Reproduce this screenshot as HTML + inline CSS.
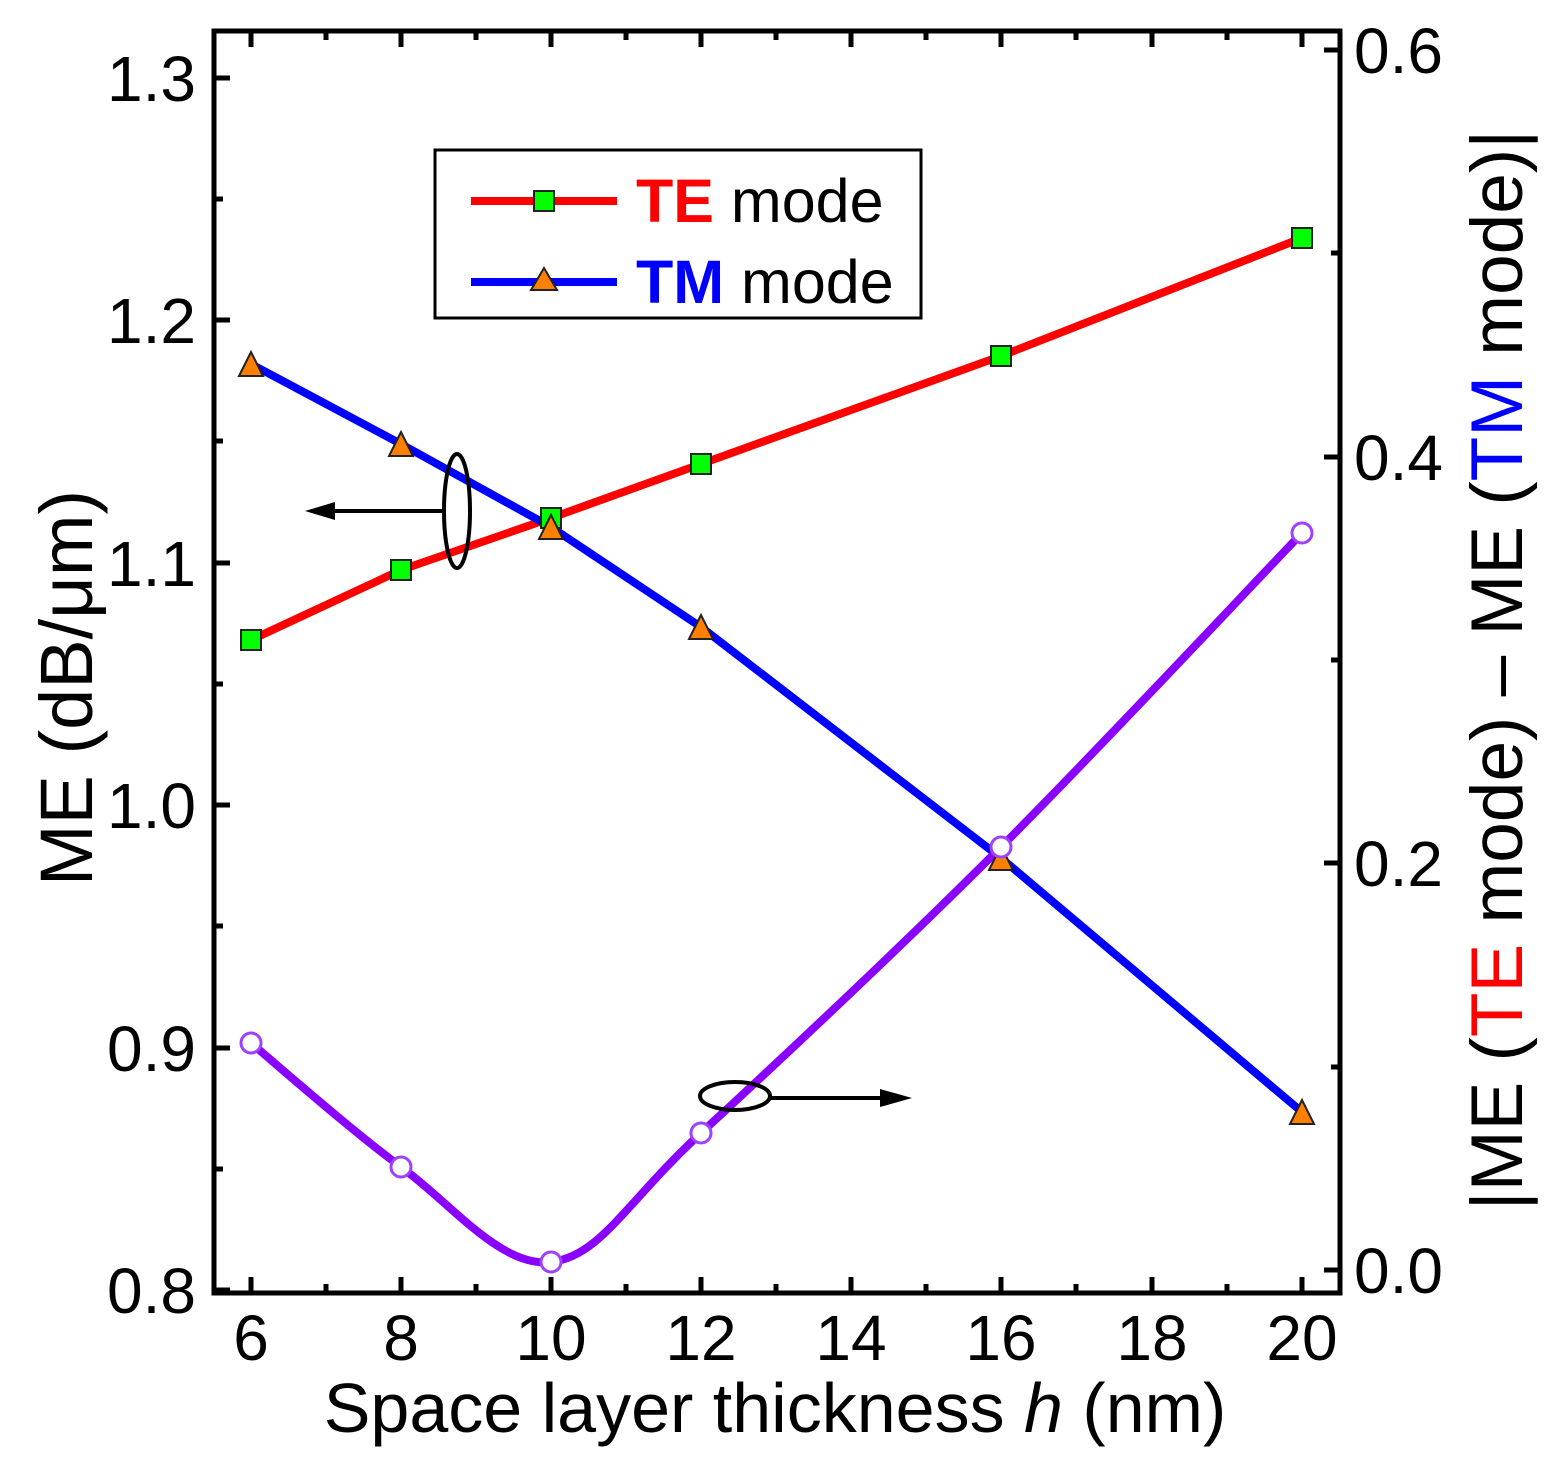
<!DOCTYPE html>
<html><head><meta charset="utf-8"><style>html,body{margin:0;padding:0;background:#fff}</style></head>
<body>
<svg width="1567" height="1472" viewBox="0 0 1567 1472" xmlns="http://www.w3.org/2000/svg" font-family="Liberation Sans, Arial, sans-serif">
<rect width="1567" height="1472" fill="#fff"/>
<rect x="214" y="31" width="1126" height="1262" fill="none" stroke="#000" stroke-width="5"/>
<g stroke="#000" stroke-width="5">
<path d="M251 1293v-16M401 1293v-16M551 1293v-16M701 1293v-16M851 1293v-16M1001 1293v-16M1152 1293v-16M1302 1293v-16
M326 1293v-9M476 1293v-9M626 1293v-9M776 1293v-9M926 1293v-9M1076 1293v-9M1227 1293v-9
M251 31v16M401 31v16M551 31v16M701 31v16M851 31v16M1001 31v16M1152 31v16M1302 31v16
M326 31v9M476 31v9M626 31v9M776 31v9M926 31v9M1076 31v9M1227 31v9"/>
<path d="M214 1290h16M214 1048h16M214 805h16M214 563h16M214 320h16M214 78h16
M214 1169h9M214 926h9M214 684h9M214 441h9M214 199h9"/>
<path d="M1340 1270h-16M1340 863h-16M1340 457h-16M1340 50h-16
M1340 1067h-9M1340 660h-9M1340 253h-9"/>
</g>
<g font-size="64" fill="#000" text-anchor="end">
<text x="196" y="1313">0.8</text><text x="196" y="1071">0.9</text><text x="196" y="828">1.0</text>
<text x="196" y="586">1.1</text><text x="196" y="343">1.2</text><text x="196" y="101">1.3</text>
</g>
<g font-size="64" fill="#000" text-anchor="start">
<text x="1354" y="1293">0.0</text><text x="1354" y="886">0.2</text><text x="1354" y="480">0.4</text><text x="1354" y="73">0.6</text>
</g>
<g font-size="64" fill="#000" text-anchor="middle">
<text x="251" y="1360">6</text><text x="401" y="1360">8</text><text x="551" y="1360">10</text><text x="701" y="1360">12</text>
<text x="851" y="1360">14</text><text x="1001" y="1360">16</text><text x="1152" y="1360">18</text><text x="1302" y="1360">20</text>
</g>
<text x="775" y="1432" font-size="70" text-anchor="middle">Space layer thickness <tspan font-style="italic">h</tspan> (nm)</text>
<text transform="translate(92,688) rotate(-90)" font-size="74" text-anchor="middle">ME (dB/μm)</text>
<text transform="translate(1522,670) rotate(-90)" font-size="73" text-anchor="middle">|ME (<tspan fill="#f00">TE</tspan> mode) – ME (<tspan fill="#00f">TM</tspan> mode)|</text>

<polyline points="251,640 401,570 551,518 701,464 1001,356 1302,238" fill="none" stroke="#f00" stroke-width="8"/>
<polyline points="251,364 401,444 551,527 701,627 1001,858 1302,1112" fill="none" stroke="#00f" stroke-width="8"/>
<path d="M251 1043C276 1064 351 1130 401 1167C451 1203 501 1268 551 1262C601 1256 626 1202 701 1133C776 1064 901 947 1001 847C1101 747 1252 585 1302 533" fill="none" stroke="#8a00ff" stroke-width="8"/>
<g fill="#0f0" stroke="#222" stroke-width="2">
<rect x="241" y="630" width="20" height="20"/><rect x="391" y="560" width="20" height="20"/><rect x="541" y="508" width="20" height="20"/>
<rect x="691" y="454" width="20" height="20"/><rect x="991" y="346" width="20" height="20"/><rect x="1292" y="228" width="20" height="20"/>
</g>
<g fill="#ff8000" stroke="#222" stroke-width="2">
<polygon points="251,352 239,376 263,376"/><polygon points="401,432 389,456 413,456"/><polygon points="551,515 539,539 563,539"/>
<polygon points="701,615 689,639 713,639"/><polygon points="1001,846 989,870 1013,870"/><polygon points="1302,1100 1290,1124 1314,1124"/>
</g>
<g fill="#fff" stroke="#a040ff" stroke-width="3">
<circle cx="251" cy="1043" r="10"/><circle cx="401" cy="1167" r="10"/><circle cx="551" cy="1262" r="10"/>
<circle cx="701" cy="1133" r="10"/><circle cx="1001" cy="847" r="10"/><circle cx="1302" cy="533" r="10"/>
</g>
<ellipse cx="457" cy="511" rx="13" ry="57" fill="none" stroke="#000" stroke-width="4"/>
<line x1="444" y1="511" x2="330" y2="511" stroke="#000" stroke-width="4"/>
<polygon points="305,511 335,502 335,520" fill="#000"/>
<ellipse cx="735" cy="1096" rx="35" ry="14" fill="none" stroke="#000" stroke-width="4"/>
<line x1="770" y1="1098" x2="885" y2="1098" stroke="#000" stroke-width="4"/>
<polygon points="912,1098 880,1089 880,1107" fill="#000"/>
<rect x="435" y="150" width="486" height="168" fill="#fff" stroke="#000" stroke-width="3"/>
<line x1="471" y1="201" x2="617" y2="201" stroke="#f00" stroke-width="8"/>
<rect x="534" y="191" width="20" height="20" fill="#0f0" stroke="#222" stroke-width="2"/>
<line x1="471" y1="282" x2="617" y2="282" stroke="#00f" stroke-width="8"/>
<polygon points="544,268 531,290 557,290" fill="#ff8000" stroke="#222" stroke-width="2"/>
<text x="636" y="222" font-size="61" fill="#000"><tspan fill="#f00" font-weight="bold">TE</tspan> mode</text>
<text x="636" y="303" font-size="61" fill="#000"><tspan fill="#00f" font-weight="bold">TM</tspan> mode</text>
</svg>
</body></html>
